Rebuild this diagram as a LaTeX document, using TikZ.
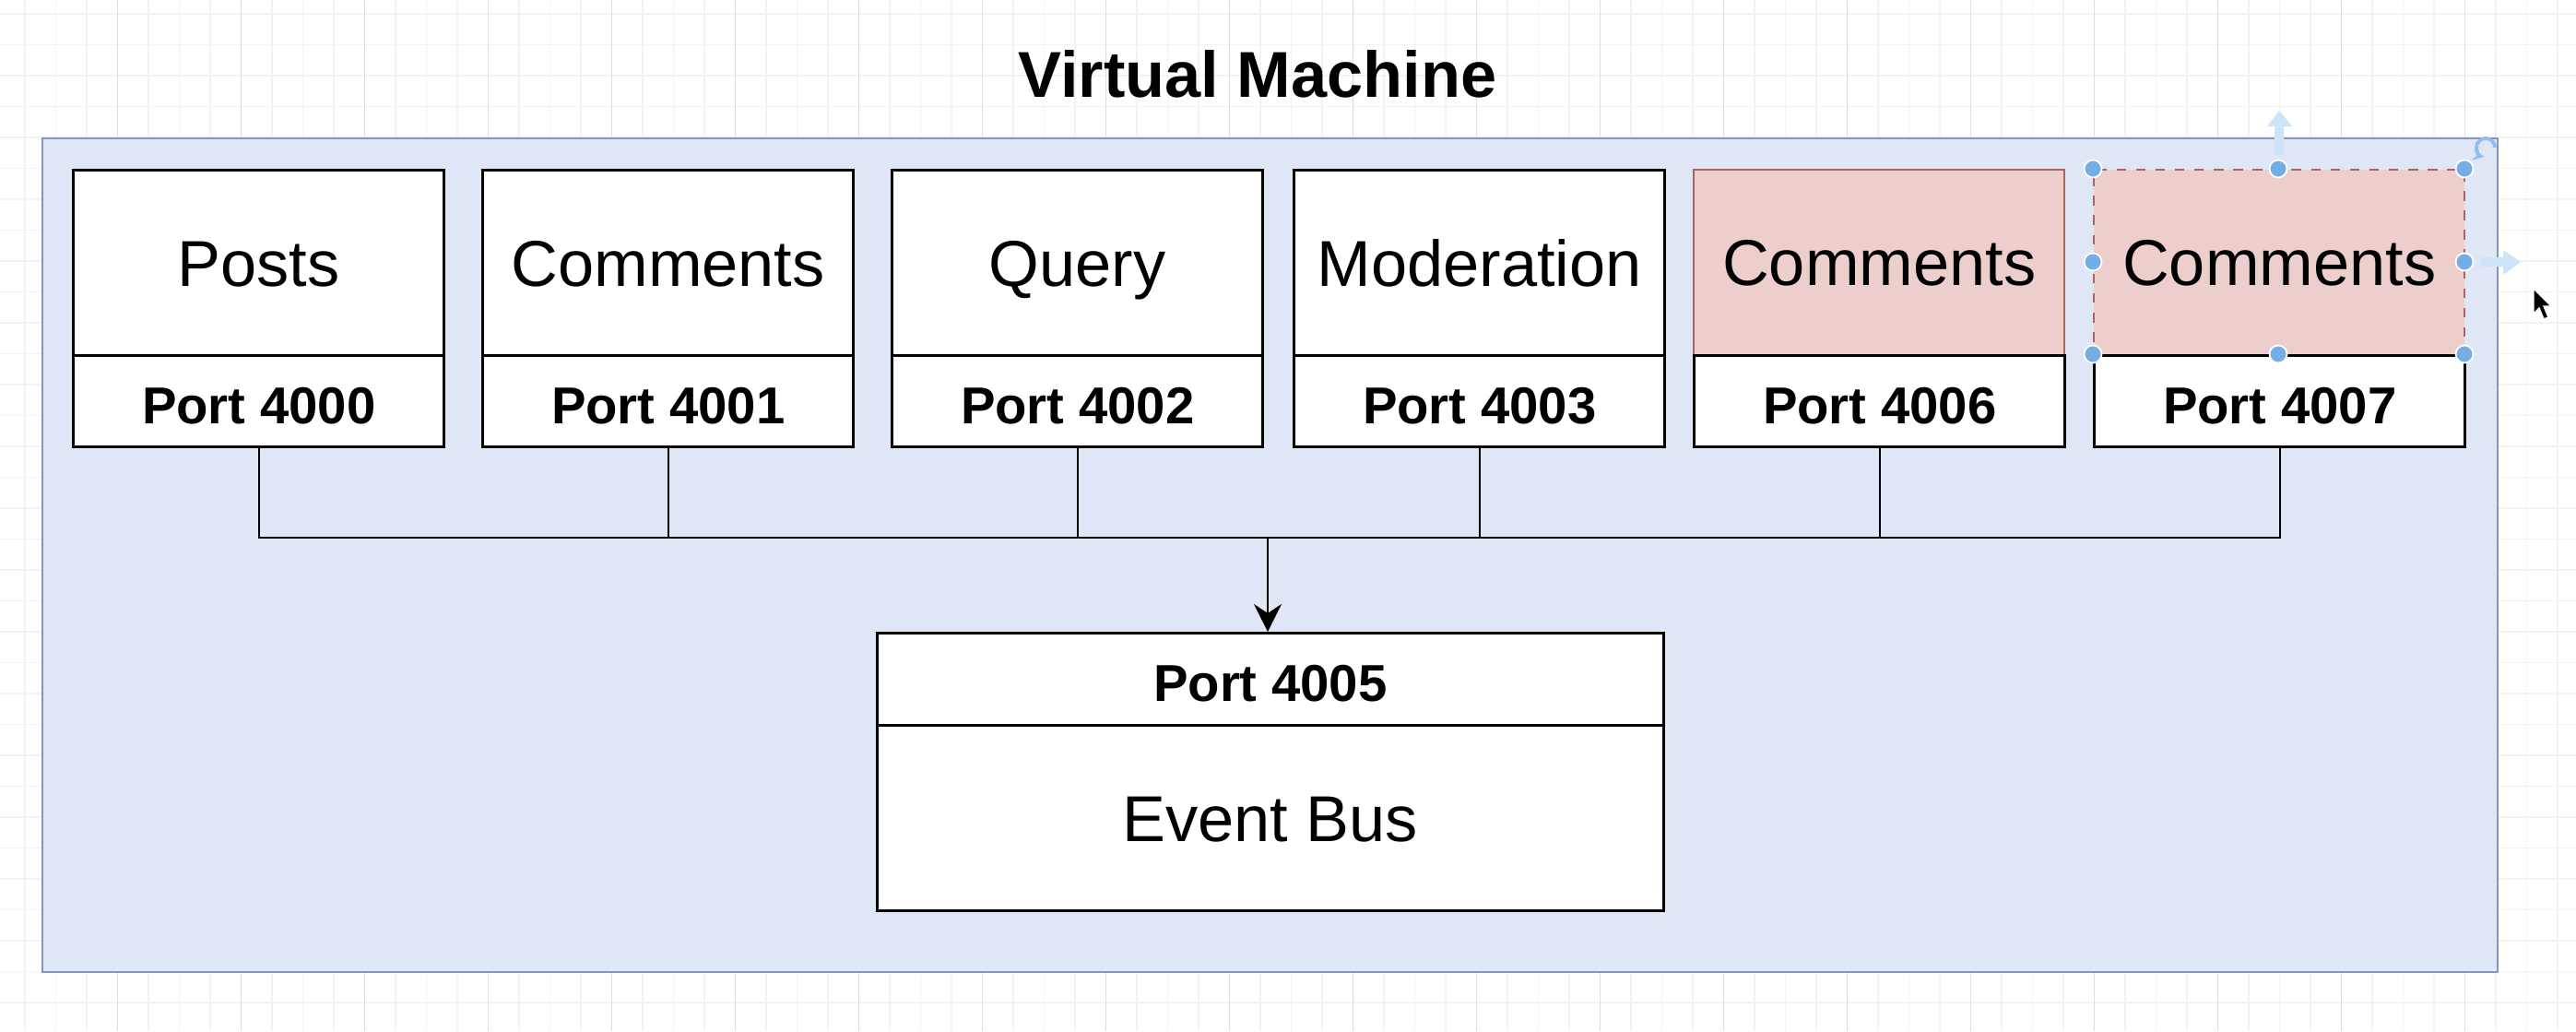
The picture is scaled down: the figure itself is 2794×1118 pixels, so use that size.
\documentclass[tikz,border=0pt]{standalone}
\usepackage{fontspec}
\setmainfont{Liberation Sans}
\usetikzlibrary{arrows.meta}
\definecolor{gridminor}{RGB}{243,243,243}
\definecolor{gridmajor}{RGB}{222,222,222}
\definecolor{vmfill}{RGB}{223,231,246}
\definecolor{vmstroke}{RGB}{130,150,196}
\definecolor{redfill}{RGB}{236,207,204}
\definecolor{redstroke}{RGB}{170,100,98}
\definecolor{handleblue}{RGB}{116,174,226}
\definecolor{ghostblue}{RGB}{205,227,247}
\tikzset{
  namebox/.style={draw=black, line width=0.9pt, fill=white, minimum width=4.02cm,
    minimum height=2.01cm, inner sep=0pt, anchor=north west,
    text height=14.3pt, text depth=0pt,
    font=\fontsize{20}{24}\selectfont},
  portbox/.style={draw=black, line width=0.9pt, fill=white, minimum width=4.02cm,
    minimum height=0.99cm, inner sep=0pt, anchor=north west,
    text height=13.7pt, text depth=0pt,
    font=\bfseries\fontsize{16}{19}\selectfont},
  redbox/.style={fill=redfill, draw=redstroke, line width=0.6pt},
  wire/.style={draw=black, line width=0.6pt},
  handle/.style={fill=handleblue, draw=white, line width=0.5pt},
}
\begin{document}
\begin{tikzpicture}[x=0.01cm, y=-0.01cm]
\useasboundingbox (0,0) rectangle (2794,1118);
\fill[white] (0,0) rectangle (2794,1118);
% grid
\foreach \k in {0,...,84} {
  \pgfmathsetmacro\xx{-6.6+33.5*\k}
  \draw[gridminor, line width=0.4pt] (\xx,0) -- (\xx,1118);
}
\foreach \k in {0,...,33} {
  \pgfmathsetmacro\yy{15+33.5*\k}
  \draw[gridminor, line width=0.4pt] (0,\yy) -- (2794,\yy);
}
\foreach \k in {0,...,21} {
  \pgfmathsetmacro\xx{-6.6+134*\k}
  \draw[gridmajor, line width=0.4pt] (\xx,0) -- (\xx,1118);
}
% title
\node[font=\bfseries\fontsize{20}{24}\selectfont] (title) at (1364,80) {Virtual Machine};
% virtual machine container
\node[draw=vmstroke, fill=vmfill, line width=0.6pt, minimum width=26.61cm,
      minimum height=9.03cm, anchor=north west, inner sep=0pt] (vm) at (45,149) {};
% services
\node[namebox] (n1) at (78,183) {Posts};
\node[portbox] (p1) at (78,384) {Port 4000};
\node[namebox] (n2) at (522,183) {Comments};
\node[portbox] (p2) at (522,384) {Port 4001};
\node[namebox] (n3) at (966,183) {Query};
\node[portbox] (p3) at (966,384) {Port 4002};
\node[namebox] (n4) at (1402,183) {Moderation};
\node[portbox] (p4) at (1402,384) {Port 4003};
\node[namebox, redbox] (n5) at (1836,183) {Comments};
\node[portbox] (p5) at (1836,384) {Port 4006};
\node[namebox, redbox, dashed] (n6) at (2270,183) {Comments};
\node[portbox] (p6) at (2270,384) {Port 4007};
% event bus
\node[portbox, minimum width=8.52cm, minimum height=1.0cm] (ep) at (950,685) {Port 4005};
\node[namebox, minimum width=8.52cm] (en) at (950,785) {Event Bus};
% connectors
\coordinate (bus) at (1375,583);
\foreach \p in {p1,p2,p3,p4,p5,p6} {
  \draw[wire] (\p.south) |- (bus);
}
\draw[wire, -{Stealth[length=0.3cm, width=0.3cm, inset=0.1cm]}] (bus) -- (bus |- ep.north);
% selection handles
\foreach \hx/\hy in {2270/183, 2471/183, 2673/183, 2270/284, 2673/284, 2270/384, 2471/384, 2673/384} {
  \filldraw[handle] (\hx,\hy) circle[radius=9.5];
}
% ghost arrows
\fill[ghostblue] (2467,167) -- (2467,137) -- (2459,137) -- (2472,120) -- (2486,137)
  -- (2477,137) -- (2477,167) -- cycle;
\fill[ghostblue] (2690,279) -- (2715,279) -- (2715,271) -- (2734,284) -- (2715,298)
  -- (2715,289) -- (2690,289) -- cycle;
% rotate icon
\draw[handleblue!80, line width=1.1pt, -{Stealth[length=0.12cm, width=0.12cm]}]
  (2706,160) arc[start angle=0, end angle=-260, radius=10];
% cursor
\filldraw[black, draw=white, line width=0.4pt] (2748,313) -- (2748,340) -- (2754,334)
  -- (2759,346) -- (2764,344) -- (2759,332) -- (2767,332) -- cycle;
\end{tikzpicture}
\end{document}
